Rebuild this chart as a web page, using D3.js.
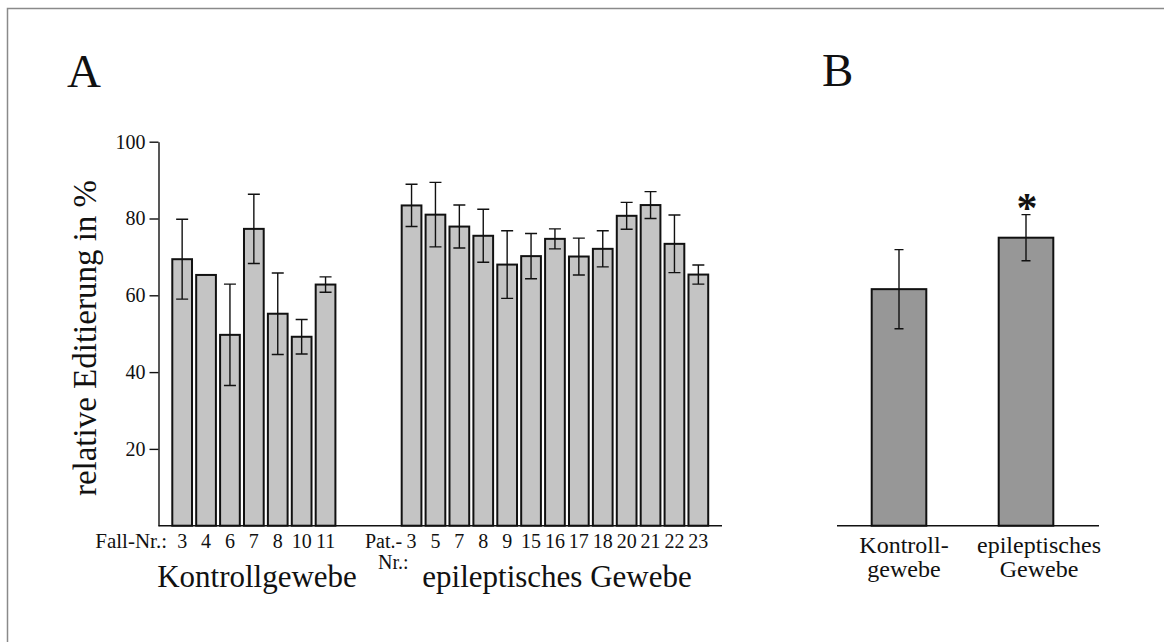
<!DOCTYPE html>
<html>
<head>
<meta charset="utf-8">
<script src="https://cdn.jsdelivr.net/npm/d3@7"></script>
<style>
    body { margin: 0; background: #fff; }
    svg text { font-family: "Liberation Serif", "Times New Roman", Times, serif; fill: #111; }
</style>
</head>
<body>
<svg id="chart" width="1164" height="642"></svg>
<script>
// Panel A: control tissue (Fall-Nr.)
const controlCases = ["3", "4", "6", "7", "8", "10", "11"];
const controlMeans = [69.4, 65.3, 49.7, 77.3, 55.2, 49.2, 62.8];
const controlErrors = [10.4, 0, 13.2, 9.0, 10.6, 4.5, 2.0];

// Panel A: epileptic tissue (Pat.-Nr.)
const patientCases = ["3", "5", "7", "8", "9", "15", "16", "17", "18", "20", "21", "22", "23"];
const patientMeans = [83.4, 81.0, 77.9, 75.5, 68.0, 70.2, 74.7, 70.1, 72.1, 80.7, 83.5, 73.4, 65.4];
const patientErrors = [5.5, 8.4, 5.6, 6.9, 8.8, 5.9, 2.6, 4.8, 4.7, 3.5, 3.5, 7.5, 2.5];

// Panel B: group means
const groupKeys = ["control", "epileptic"];
const groupLabels = [["Kontroll-", "gewebe"], ["epileptisches", "Gewebe"]];
const groupMeans = [61.6, 75.0];
const groupErrors = [10.3, 6.0];

const yTicks = [20, 40, 60, 80, 100];

const SERIF = "'Liberation Serif', 'Times New Roman', Times, serif";

const svg = d3.select("#chart");

// frame (only top and left edge visible)
svg.append("path")
    .attr("d", "M7.5,642 V8.5 H1164")
    .attr("fill", "none")
    .attr("stroke", "#8a8a8a")
    .attr("stroke-width", 1.5);

const yScale = d3.scaleLinear().domain([0, 100]).range([525.7, 141.7]);
const baseY = yScale(0);

const xControl = d3.scaleBand().domain(controlCases).range([170.2, 170.2 + 7 * 23.9]).paddingInner(0.175).paddingOuter(0.0875);
const xPatient = d3.scaleBand().domain(patientCases).range([399.6, 399.6 + 13 * 23.9]).paddingInner(0.175).paddingOuter(0.0875);
const xGroup = d3.scaleBand().domain(groupKeys).range([835.5, 1089.5]).paddingInner(0.57).paddingOuter(0.285);

const label = (x, y, size, str, anchor = "start") =>
    svg.append("text")
        .attr("x", x)
        .attr("y", y)
        .attr("font-size", size)
        .attr("font-family", SERIF)
        .attr("text-anchor", anchor)
        .text(str);

// panel letters
label(67, 87, 47, "A");
label(822, 86, 47, "B");

// y axis title
svg.append("text")
    .attr("transform", "translate(96,338) rotate(-90)")
    .attr("text-anchor", "middle")
    .attr("font-family", SERIF)
    .attr("font-size", 33)
    .text("relative Editierung in %");

// y axis
const yAxis = svg.append("g")
    .attr("transform", "translate(158.5,0)")
    .call(d3.axisLeft(yScale).tickValues(yTicks).tickSize(9).tickSizeOuter(0).tickPadding(4));
yAxis.attr("font-family", SERIF);
yAxis.selectAll("path, line").attr("stroke", "#111").attr("stroke-width", 1.4);
yAxis.selectAll("text").attr("font-size", 20).attr("fill", "#111");

// baselines
svg.append("line").attr("x1", 158.5).attr("x2", 722).attr("y1", baseY).attr("y2", baseY)
    .attr("stroke", "#111").attr("stroke-width", 1.4);
svg.append("line").attr("x1", 837).attr("x2", 1099).attr("y1", baseY).attr("y2", baseY)
    .attr("stroke", "#111").attr("stroke-width", 1.4);

const drawBars = (keys, means, errors, xScale, fill, capHalf) => {
    const rows = keys.map((k, i) => ({ key: k, mean: means[i], err: errors[i] }));
    const g = svg.append("g");

    g.selectAll(".bar")
        .data(rows)
        .enter()
        .append("rect")
        .attr("class", "bar")
        .attr("x", (d) => xScale(d.key))
        .attr("y", (d) => yScale(d.mean))
        .attr("width", xScale.bandwidth())
        .attr("height", (d) => baseY - yScale(d.mean))
        .attr("fill", fill)
        .attr("stroke", "#111")
        .attr("stroke-width", 2);

    // error bars, skipped when there is no spread
    const withErr = rows.filter((d) => d.err > 0);
    const cx = (d) => xScale(d.key) + xScale.bandwidth() / 2;

    g.selectAll(".err")
        .data(withErr)
        .enter()
        .append("path")
        .attr("class", "err")
        .attr("fill", "none")
        .attr("stroke", "#111")
        .attr("stroke-width", 1.4)
        .attr("d", (d) => {
            const top = yScale(d.mean + d.err);
            const bottom = yScale(d.mean - d.err);
            return `M${cx(d)},${top}V${bottom}` +
                `M${cx(d) - capHalf},${top}H${cx(d) + capHalf}` +
                `M${cx(d) - capHalf},${bottom}H${cx(d) + capHalf}`;
        });
    return g;
};

drawBars(controlCases, controlMeans, controlErrors, xControl, "#c4c4c4", 6);
drawBars(patientCases, patientMeans, patientErrors, xPatient, "#c4c4c4", 6);
drawBars(groupKeys, groupMeans, groupErrors, xGroup, "#979797", 4.5);

// case number ticks
const caseAxis = (scale) => (g) => {
    g.attr("transform", `translate(0,${baseY})`)
        .attr("font-family", SERIF)
        .call(d3.axisBottom(scale).tickSize(0).tickPadding(8));
    g.select(".domain").remove();
    g.selectAll("text").attr("font-size", 20).attr("fill", "#111");
};
svg.append("g").call(caseAxis(xControl));
svg.append("g").call(caseAxis(xPatient));

label(167, 548, 21, "Fall-Nr.:", "end");
label(365, 548, 20, "Pat.-");
label(378, 569, 20, "Nr.:");

label(257, 587, 31, "Kontrollgewebe", "middle");
label(557, 587, 31, "epileptisches Gewebe", "middle");

// panel B group labels, two lines each
const labelShift = [5, 13];
groupKeys.forEach((k, i) => {
    const cx = xGroup(k) + xGroup.bandwidth() / 2 + labelShift[i];
    groupLabels[i].forEach((line, j) => {
        label(cx, 553 + j * 24, 24, line, "middle");
    });
});

// significance mark
svg.append("text")
    .attr("x", xGroup("epileptic") + xGroup.bandwidth() / 2 + 1)
    .attr("y", 222)
    .attr("text-anchor", "middle")
    .attr("font-family", SERIF)
    .attr("font-weight", "bold")
    .attr("font-size", 42)
    .text("*");
</script>
</body>
</html>
